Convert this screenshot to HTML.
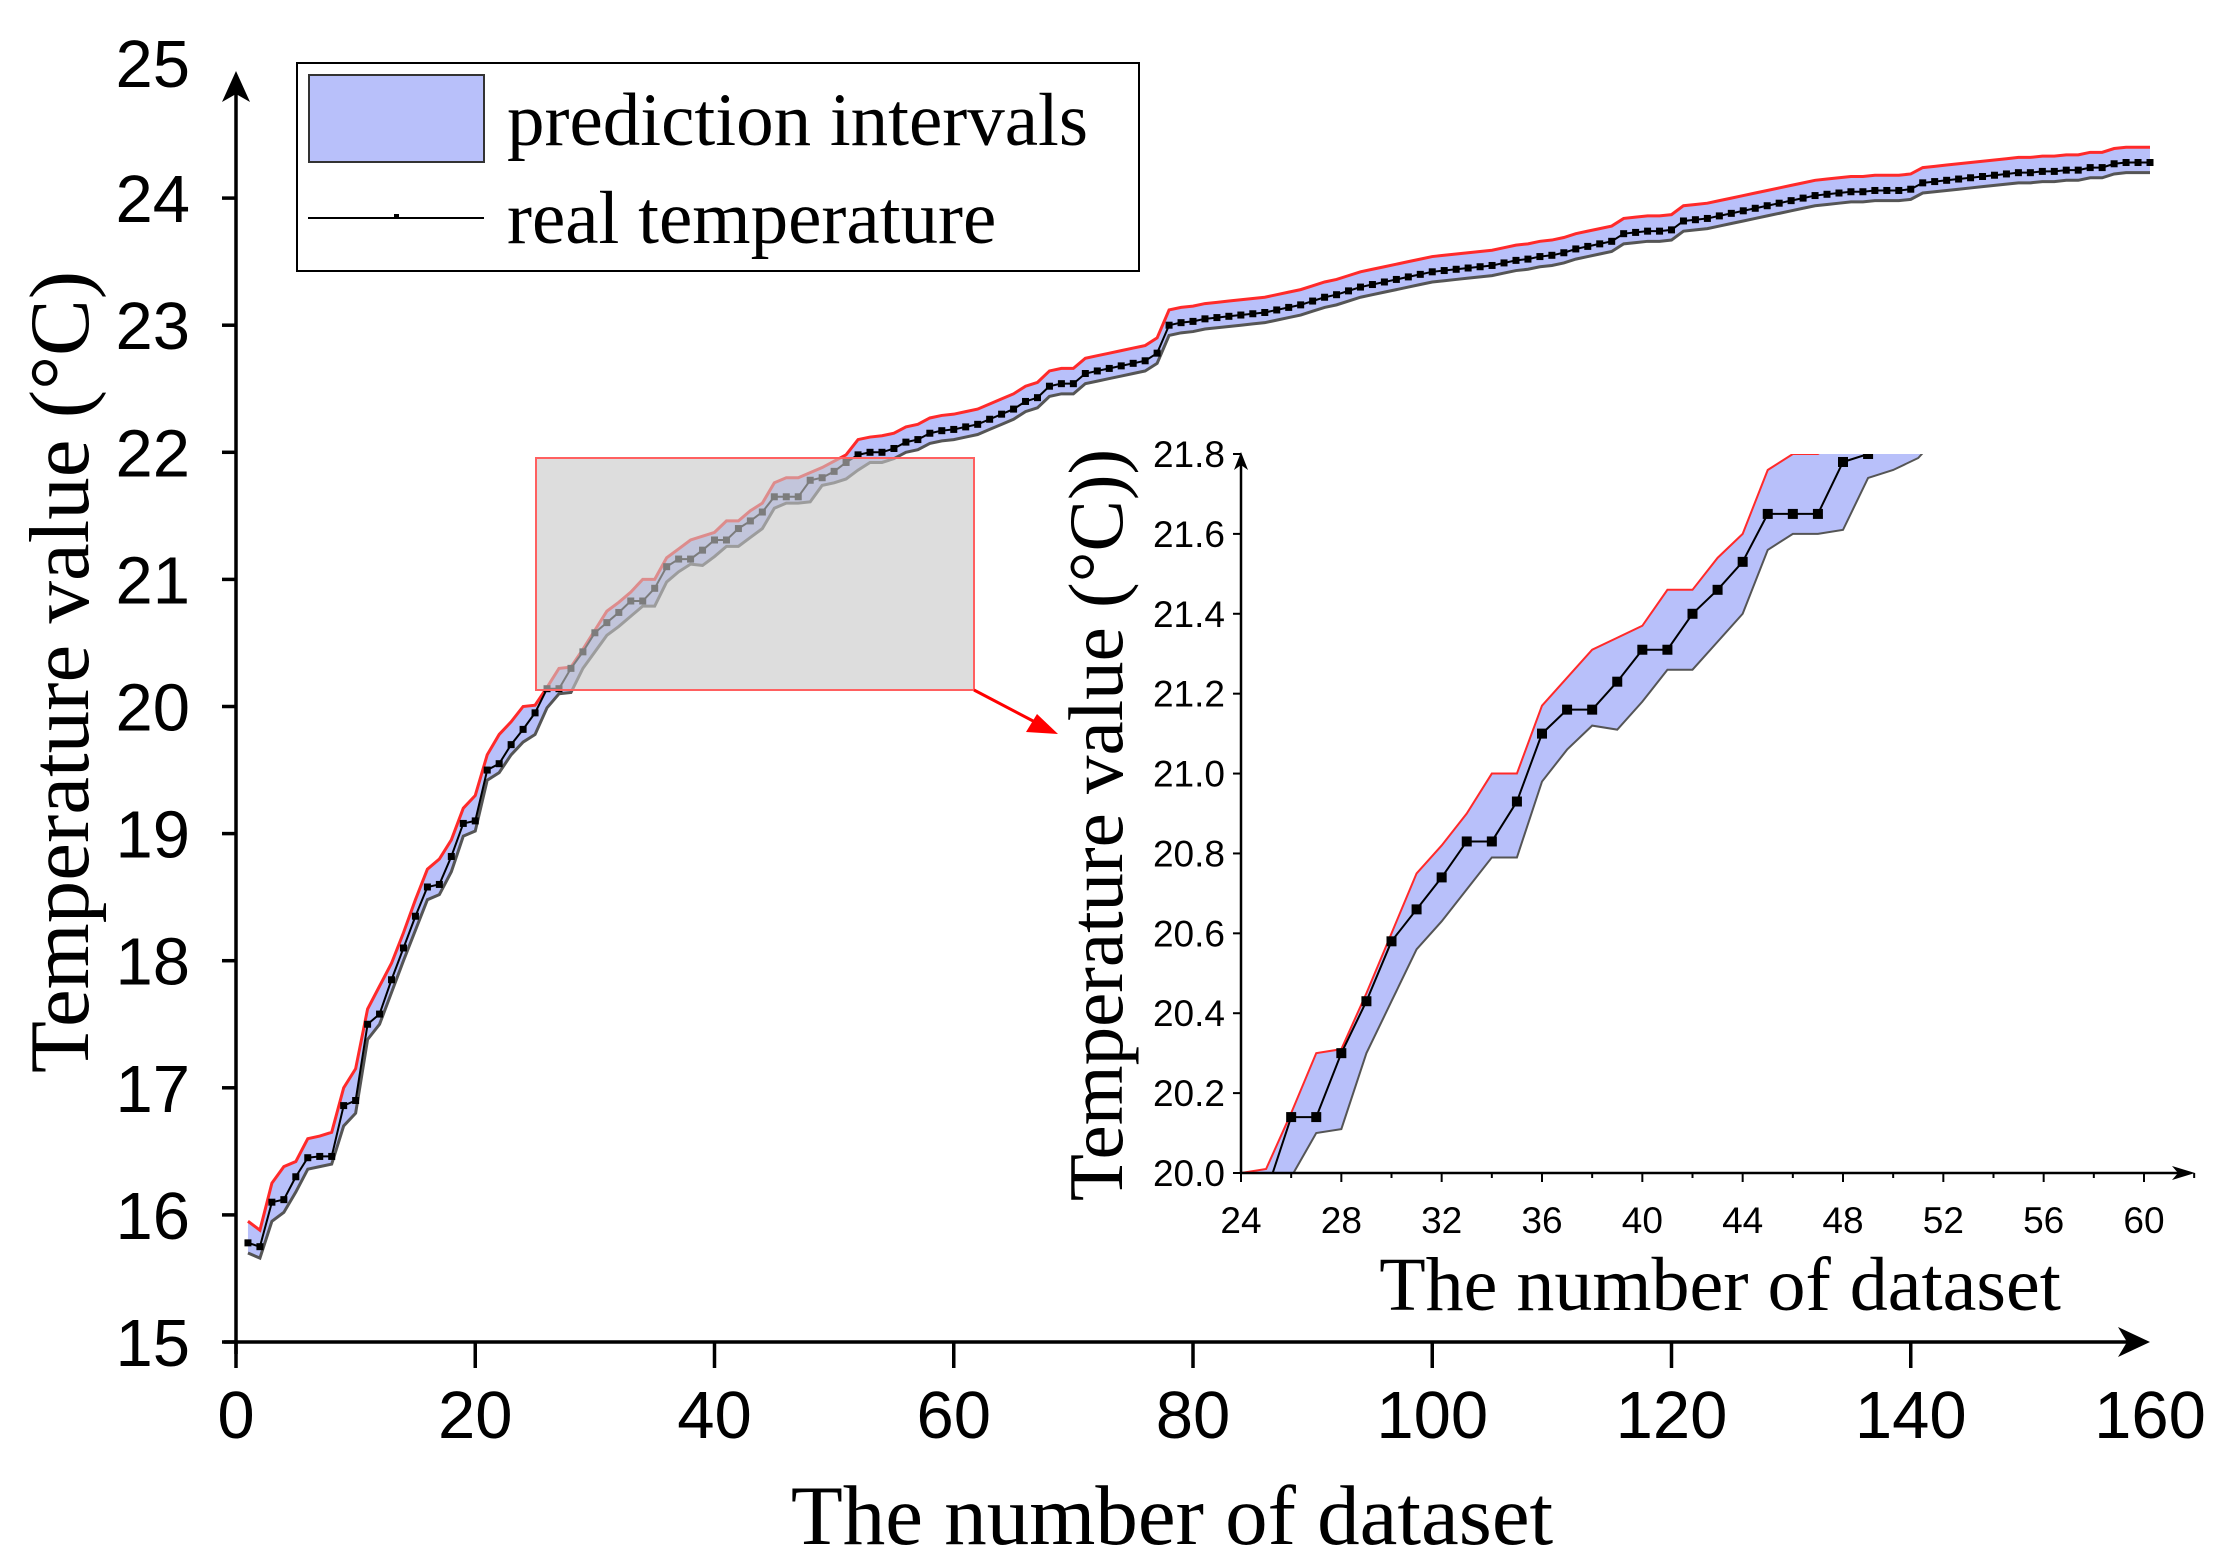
<!DOCTYPE html>
<html><head><meta charset="utf-8"><style>
html,body{margin:0;padding:0;background:#fff}
svg{display:block}
</style></head><body>
<svg id="chart" width="2228" height="1560" viewBox="0 0 2228 1560" xmlns="http://www.w3.org/2000/svg">
<defs>
<clipPath id="insetClip"><rect x="1241" y="454" width="903" height="719"/></clipPath>
</defs>
<g id="main"></g>
<g id="inset"></g>
</svg>
<script>
const xTicksMain=[0,20,40,60,80,100,120,140,160];
const yTicksMain=[15,16,17,18,19,20,21,22,23,24,25];
const xTicksInset=[24,28,32,36,40,44,48,52,56,60];
const yTicksInset=["20.0","20.2","20.4","20.6","20.8","21.0","21.2","21.4","21.6","21.8"];
const realTemp=[15.78,15.75,16.10,16.12,16.30,16.45,16.46,16.46,16.86,16.90,17.50,17.58,17.85,18.10,18.35,18.58,18.60,18.82,19.08,19.10,19.50,19.55,19.70,19.82,19.95,20.14,20.14,20.30,20.43,20.58,20.66,20.74,20.83,20.83,20.93,21.10,21.16,21.16,21.23,21.31,21.31,21.40,21.46,21.53,21.65,21.65,21.65,21.78,21.80,21.85,21.92,21.98,22.00,22.00,22.03,22.08,22.10,22.15,22.17,22.18,22.20,22.22,22.26,22.30,22.34,22.40,22.43,22.52,22.54,22.54,22.62,22.64,22.66,22.68,22.70,22.72,22.78,23.00,23.02,23.03,23.05,23.06,23.07,23.08,23.09,23.10,23.12,23.14,23.16,23.19,23.22,23.24,23.27,23.30,23.32,23.34,23.36,23.38,23.40,23.42,23.43,23.44,23.45,23.46,23.47,23.49,23.51,23.52,23.54,23.55,23.57,23.60,23.62,23.64,23.66,23.72,23.73,23.74,23.74,23.75,23.82,23.83,23.84,23.86,23.88,23.90,23.92,23.94,23.96,23.98,24.00,24.02,24.03,24.04,24.05,24.05,24.06,24.06,24.06,24.07,24.12,24.13,24.14,24.15,24.16,24.17,24.18,24.19,24.20,24.20,24.21,24.21,24.22,24.22,24.24,24.24,24.27,24.28,24.28,24.28];
const upperBound=[15.95,15.88,16.25,16.38,16.42,16.60,16.62,16.65,17.00,17.15,17.62,17.80,17.98,18.22,18.48,18.72,18.80,18.95,19.20,19.30,19.62,19.78,19.88,20.00,20.01,20.15,20.30,20.31,20.45,20.60,20.75,20.82,20.90,21.00,21.00,21.17,21.24,21.31,21.34,21.37,21.46,21.46,21.54,21.60,21.76,21.80,21.80,21.84,21.88,21.93,21.98,22.10,22.12,22.13,22.15,22.20,22.22,22.27,22.29,22.30,22.32,22.34,22.38,22.42,22.46,22.52,22.55,22.64,22.66,22.66,22.74,22.76,22.78,22.80,22.82,22.84,22.90,23.12,23.14,23.15,23.17,23.18,23.19,23.20,23.21,23.22,23.24,23.26,23.28,23.31,23.34,23.36,23.39,23.42,23.44,23.46,23.48,23.50,23.52,23.54,23.55,23.56,23.57,23.58,23.59,23.61,23.63,23.64,23.66,23.67,23.69,23.72,23.74,23.76,23.78,23.84,23.85,23.86,23.86,23.87,23.94,23.95,23.96,23.98,24.00,24.02,24.04,24.06,24.08,24.10,24.12,24.14,24.15,24.16,24.17,24.17,24.18,24.18,24.18,24.19,24.24,24.25,24.26,24.27,24.28,24.29,24.30,24.31,24.32,24.32,24.33,24.33,24.34,24.34,24.36,24.36,24.39,24.40,24.40,24.40];
const lowerBound=[15.70,15.66,15.95,16.02,16.18,16.36,16.38,16.40,16.70,16.80,17.38,17.50,17.75,18.00,18.24,18.48,18.52,18.70,18.98,19.02,19.42,19.48,19.62,19.72,19.78,19.99,20.10,20.11,20.30,20.43,20.56,20.63,20.71,20.79,20.79,20.98,21.06,21.12,21.11,21.18,21.26,21.26,21.33,21.40,21.56,21.60,21.60,21.61,21.74,21.76,21.79,21.86,21.92,21.92,21.95,22.00,22.02,22.07,22.09,22.10,22.12,22.14,22.18,22.22,22.26,22.32,22.35,22.44,22.46,22.46,22.54,22.56,22.58,22.60,22.62,22.64,22.70,22.92,22.94,22.95,22.97,22.98,22.99,23.00,23.01,23.02,23.04,23.06,23.08,23.11,23.14,23.16,23.19,23.22,23.24,23.26,23.28,23.30,23.32,23.34,23.35,23.36,23.37,23.38,23.39,23.41,23.43,23.44,23.46,23.47,23.49,23.52,23.54,23.56,23.58,23.64,23.65,23.66,23.66,23.67,23.74,23.75,23.76,23.78,23.80,23.82,23.84,23.86,23.88,23.90,23.92,23.94,23.95,23.96,23.97,23.97,23.98,23.98,23.98,23.99,24.04,24.05,24.06,24.07,24.08,24.09,24.10,24.11,24.12,24.12,24.13,24.13,24.14,24.14,24.16,24.16,24.19,24.20,24.20,24.20];

const NS="http://www.w3.org/2000/svg";
function mk(parent,tag,attrs,text){const e=document.createElementNS(NS,tag);for(const k in attrs)e.setAttribute(k,attrs[k]);if(text!==undefined)e.textContent=text;parent.appendChild(e);return e;}
const mainX=v=>236+(v-0)*(2150-236)/160;
const mainY=v=>1342-(v-15)*127.1;
const inX=v=>1241+(v-24)*(2144-1241)/36;
const inY=v=>1173-(v-20)*(1173-454)/1.8;
const G=document.getElementById('main');
const I=document.getElementById('inset');

function bandPath(xf,yf,i0,i1){let d='';for(let i=i0;i<=i1;i++)d+=(i===i0?'M':'L')+xf(i+1)+','+yf(upperBound[i]);for(let i=i1;i>=i0;i--)d+='L'+xf(i+1)+','+yf(lowerBound[i]);return d+'Z';}
function linePath(xf,yf,arr,i0,i1){let d='';for(let i=i0;i<=i1;i++)d+=(i===i0?'M':'L')+xf(i+1)+','+yf(arr[i]);return d;}
let e;
e=mk(G,'path',{d:bandPath(mainX,mainY,0,159),fill:'#b8c0fa',stroke:'none'});


e=mk(G,'path',{d:linePath(mainX,mainY,upperBound,0,159),fill:'none',stroke:'#ff2a2a','stroke-width':3});


e=mk(G,'path',{d:linePath(mainX,mainY,lowerBound,0,159),fill:'none',stroke:'#555','stroke-width':3});


e=mk(G,'path',{d:linePath(mainX,mainY,realTemp,0,159),fill:'none',stroke:'#000','stroke-width':2});


for(let i=0;i<160;i++){
  e=mk(G,'rect',{x:mainX(i+1)-3.5,y:mainY(realTemp[i])-3.5,width:7,height:7,fill:'#000'});
  
  
}
e=mk(G,'rect',{x:536,y:458,width:438,height:232,fill:'rgba(200,200,200,0.62)',stroke:'#ff6060','stroke-width':2});


e=mk(G,'path',{d:'M974,690 L1035,722',stroke:'#ff0000','stroke-width':3,fill:'none'});


e=mk(G,'path',{d:'M1058,734 L1026,732 L1037,714 Z',fill:'#ff0000'});



e=mk(G,'path',{d:'M236,1354 L236,80 M224,1342 L2140,1342',stroke:'#000','stroke-width':3.5,fill:'none'});


e=mk(G,'path',{d:'M222,102 L236,71 L250,102 L236,94 Z M2118,1327 L2150,1342 L2118,1357 L2127,1342 Z',fill:'#000'});


yTicksMain.forEach(v=>{
  if(v<25){e=mk(G,'line',{x1:222,x2:236,y1:mainY(v),y2:mainY(v),stroke:'#000','stroke-width':3.5});
  
  }
  const yy=v<25?mainY(v)+24:87;
  e=mk(G,'text',{x:190,y:yy,'text-anchor':'end','font-family':'Liberation Sans, sans-serif','font-size':67},String(v));
  
  
});
xTicksMain.forEach(v=>{
  if(v<160){e=mk(G,'line',{x1:mainX(v),x2:mainX(v),y1:1342,y2:1368,stroke:'#000','stroke-width':3.5});
  
  }
  e=mk(G,'text',{x:mainX(v),y:1438,'text-anchor':'middle','font-family':'Liberation Sans, sans-serif','font-size':67},String(v));
  
  
});
e=mk(G,'text',{x:1172,y:1544,'text-anchor':'middle','font-family':'Liberation Serif, serif','font-size':85},'The number of dataset');


e=mk(G,'text',{x:0,y:0,transform:'translate(88,672) rotate(-90)','text-anchor':'middle','font-family':'Liberation Serif, serif','font-size':85},'Temperature value (°C)');



const L=mk(G,'g',{});


mk(L,'rect',{x:297,y:63,width:842,height:208,fill:'#fff',stroke:'#000','stroke-width':2});
e=mk(L,'rect',{x:309,y:75,width:175,height:87,fill:'#b8c0fa',stroke:'#333','stroke-width':2});


e=mk(L,'line',{x1:308,x2:484,y1:218,y2:218,stroke:'#000','stroke-width':2});


mk(L,'rect',{x:394,y:214,width:5,height:5,fill:'#000'});
e=mk(L,'text',{x:507,y:145,'font-family':'Liberation Serif, serif','font-size':75},'prediction intervals');


e=mk(L,'text',{x:507,y:243,'font-family':'Liberation Serif, serif','font-size':75},'real temperature');



const IC=mk(I,'g',{'clip-path':'url(#insetClip)'});
e=mk(IC,'path',{d:bandPath(inX,inY,22,51),fill:'#b8c0fa'});


e=mk(IC,'path',{d:linePath(inX,inY,upperBound,22,51),fill:'none',stroke:'#ff2a2a','stroke-width':2});


e=mk(IC,'path',{d:linePath(inX,inY,lowerBound,22,51),fill:'none',stroke:'#555','stroke-width':2});


e=mk(IC,'path',{d:linePath(inX,inY,realTemp,23,48),fill:'none',stroke:'#000','stroke-width':2});


for(let i=25;i<=48;i++){
  e=mk(IC,'rect',{x:inX(i+1)-5,y:inY(realTemp[i])-5,width:10,height:10,fill:'#000'});
  
  
}
e=mk(I,'path',{d:'M1241,1173 L1241,462 M1241,1173 L2180,1173',stroke:'#000','stroke-width':2.5,fill:'none'});


mk(I,'path',{d:'M1234,470 L1241,452 L1248,470 L1241,465 Z M2172,1166 L2195,1173 L2172,1180 L2178,1173 Z',fill:'#000'});
yTicksInset.forEach(s=>{
  const v=parseFloat(s);
  e=mk(I,'line',{x1:1233,x2:1241,y1:inY(v),y2:inY(v),stroke:'#000','stroke-width':2});
  
  
  e=mk(I,'text',{x:1225,y:inY(v)+13,'text-anchor':'end','font-family':'Liberation Sans, sans-serif','font-size':37},s);
  
  
});
xTicksInset.forEach(v=>{
  e=mk(I,'line',{x1:inX(v),x2:inX(v),y1:1173,y2:1182,stroke:'#000','stroke-width':2});
  
  
  mk(I,'line',{x1:inX(v+2),x2:inX(v+2),y1:1173,y2:1178,stroke:'#000','stroke-width':2});
  e=mk(I,'text',{x:inX(v),y:1233,'text-anchor':'middle','font-family':'Liberation Sans, sans-serif','font-size':37},String(v));
  
  
});
e=mk(I,'text',{x:1720,y:1310,'text-anchor':'middle','font-family':'Liberation Serif, serif','font-size':76},'The number of dataset');


e=mk(I,'text',{x:0,y:0,transform:'translate(1122,825) rotate(-90)','text-anchor':'middle','font-family':'Liberation Serif, serif','font-size':77},'Temperature value (°C))');


</script>
</body></html>
